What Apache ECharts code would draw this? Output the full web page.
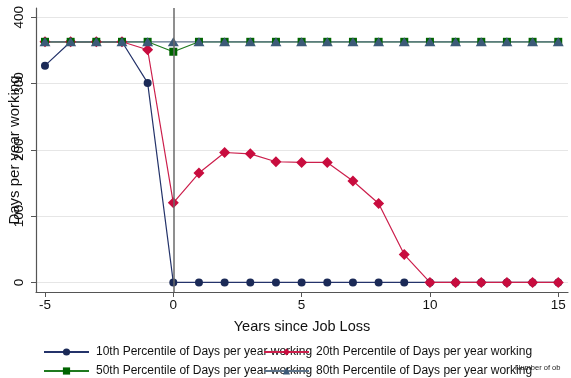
<!DOCTYPE html>
<html>
<head>
<meta charset="utf-8">
<script src="https://cdn.jsdelivr.net/npm/echarts@6/dist/echarts.min.js"></script>
<style>
  html, body { margin: 0; padding: 0; background: #fff; }
  #chart { width: 571px; height: 378px; }
</style>
</head>
<body>
<div id="chart"></div>
<script>
// Years relative to the job loss
const years = [-5, -4, -3, -2, -1, 0, 1, 2, 3, 4, 5, 6, 7, 8, 9, 10, 11, 12, 13, 14, 15];

// Percentiles of days per year working
const p10 = [327, 363, 363, 363, 301, 0, 0, 0, 0, 0, 0, 0, 0, 0, 0, 0, 0, 0, 0, 0, 0];
const p20 = [363, 363, 363, 363, 351, 120, 165, 196, 194, 182, 181, 181, 153, 119, 42, 0, 0, 0, 0, 0, 0];
const p50 = [363, 363, 363, 363, 363, 348, 363, 363, 363, 363, 363, 363, 363, 363, 363, 363, 363, 363, 363, 363, 363];
const p80 = [363, 363, 363, 363, 363, 363, 363, 363, 363, 363, 363, 363, 363, 363, 363, 363, 363, 363, 363, 363, 363];

// Tick labels
const xTicks = [-5, 0, 5, 10, 15];
const yTicks = [0, 100, 200, 300, 400];

const names = [
  '10th Percentile of Days per year working',
  '20th Percentile of Days per year working',
  '50th Percentile of Days per year working',
  '80th Percentile of Days per year working'
];

const FONT = '"Liberation Sans", Arial, Helvetica, sans-serif';

function pairs(vals) {
  return years.map((y, i) => [y, vals[i]]);
}

function mkSeries(name, vals, color, lineColor, symbol, size) {
  return {
    name: name,
    type: 'line',
    data: pairs(vals),
    symbol: symbol,
    symbolSize: size,
    showAllSymbol: true,
    lineStyle: { color: lineColor, width: 1.2 },
    itemStyle: { color: color },
    emphasis: { disabled: true },
    animation: false
  };
}

const series = [
  mkSeries(names[0], p10, '#1b2a57', '#24336a', 'circle', 8),
  mkSeries(names[1], p20, '#c80c3e', '#cc1f4c', 'diamond', 11),
  mkSeries(names[2], p50, '#006400', '#1f7a1f', 'rect', 8),
  mkSeries(names[3], p80, '#3c5a78', '#5d7389', 'triangle', [11, 9])
];

// Reference line at the year of job loss
series[0].markLine = {
  silent: true,
  symbol: ['none', 'none'],
  label: { show: false },
  lineStyle: { color: '#6a6a6a', width: 1.5, type: 'solid' },
  data: [{ xAxis: 0 }],
  animation: false
};

function legendAt(name, left, top) {
  return {
    data: [name],
    left: left,
    top: top,
    orient: 'horizontal',
    itemWidth: 45,
    itemHeight: 9,
    itemGap: 0,
    padding: 0,
    selectedMode: false,
    textStyle: { fontFamily: FONT, fontSize: 12, color: '#111', padding: [0, 0, 0, 2] }
  };
}

const option = {
  backgroundColor: '#fff',
  animation: false,
  grid: { left: 36, right: 3, top: 8, bottom: 86, containLabel: false, outerBoundsMode: 'none' },
  xAxis: {
    type: 'value',
    min: -5.35,
    max: 15.38,
    name: 'Years since Job Loss',
    nameLocation: 'middle',
    nameGap: 27,
    nameTextStyle: { fontFamily: FONT, fontSize: 14.5, color: '#111' },
    axisLine: { show: true, onZero: false, lineStyle: { color: '#555', width: 1.2 } },
    axisTick: { show: true, length: 5, customValues: xTicks, lineStyle: { color: '#555' } },
    axisLabel: { customValues: xTicks, fontFamily: FONT, fontSize: 13.5, color: '#111', margin: 6 },
    splitLine: { show: false }
  },
  yAxis: {
    type: 'value',
    min: -14.5,
    max: 414,
    name: 'Days per year working',
    nameLocation: 'middle',
    nameRotate: 90,
    nameGap: 14,
    nameMoveOverlap: false,
    nameTextStyle: { fontFamily: FONT, fontSize: 15, color: '#111' },
    axisLine: { show: true, onZero: false, lineStyle: { color: '#555', width: 1.2 } },
    axisTick: { show: true, length: 5, customValues: yTicks, lineStyle: { color: '#555' } },
    axisLabel: { customValues: yTicks, rotate: 90, fontFamily: FONT, fontSize: 13.5, color: '#111', margin: 10 },
    splitLine: { show: true, lineStyle: { color: '#e6e6e6', width: 1.2 } }
  },
  legend: [
    legendAt(names[0], 43, 346),
    legendAt(names[1], 263, 346),
    legendAt(names[2], 43, 365),
    legendAt(names[3], 263, 365)
  ],
  graphic: [{
    type: 'text',
    left: 515,
    top: 364,
    style: { text: 'Number of ob', fontFamily: FONT, fontSize: 7.5, fill: '#222' },
    silent: true
  }],
  series: series
};

const chart = echarts.init(document.getElementById('chart'), null, { renderer: 'canvas' });
chart.setOption(option);
</script>
</body>
</html>
